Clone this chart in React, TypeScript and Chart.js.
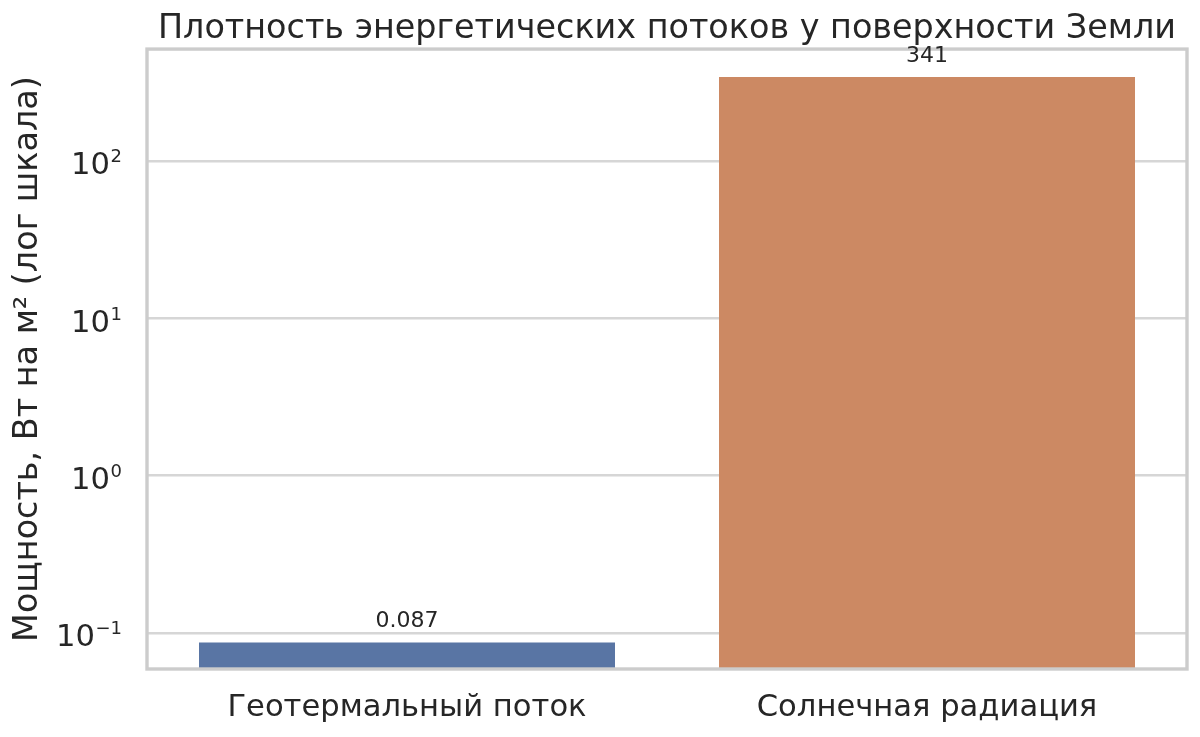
import { useEffect, useRef } from "react";
import { Chart, registerables } from "chart.js";

Chart.register(...registerables);

// ---- data ----
const categories = ["Геотермальный поток", "Солнечная радиация"];
const values = [0.087, 341];
const valueLabels = ["0.087", "341"];
const barColors = ["#5975a4", "#cc8963"];
const tickValues = [0.1, 1, 10, 100];
const tickBase = "10";
const tickExponents = ["\u22121", "0", "1", "2"];
const yMin = 0.059;
const yMax = 514;
const titleText = "Плотность энергетических потоков у поверхности Земли";
const yTitleText = "Мощность, Вт на м² (лог шкала)";

const FONT = '"DejaVu Sans", sans-serif';
const TEXT = "#262626";

const frameAndLabelsPlugin = {
  id: "frameAndLabels",
  afterDatasetsDraw(chart: any) {
    const { ctx, chartArea } = chart;
    ctx.save();
    // frame (spines)
    ctx.strokeStyle = "#cccccc";
    ctx.lineWidth = 3.4;
    ctx.strokeRect(
      chartArea.left,
      chartArea.top,
      chartArea.right - chartArea.left,
      chartArea.bottom - chartArea.top
    );
    // value annotations
    const meta = chart.getDatasetMeta(0);
    ctx.fillStyle = TEXT;
    ctx.font = `22px ${FONT}`;
    ctx.textAlign = "center";
    ctx.textBaseline = "alphabetic";
    meta.data.forEach((bar: any, i: number) => {
      ctx.fillText(valueLabels[i], bar.x, bar.y - 15);
    });
    // y tick labels with superscript exponents
    const s = chart.scales.y;
    const right = chartArea.left - 25;
    ctx.textAlign = "right";
    tickValues.forEach((v, i) => {
      const y = s.getPixelForValue(v);
      ctx.font = `18px ${FONT}`;
      ctx.fillText(tickExponents[i], right, y + 1.5);
      const w = ctx.measureText(tickExponents[i]).width;
      ctx.font = `30.6px ${FONT}`;
      ctx.fillText(tickBase, right - w - 0.5, y + 13.5);
    });
    ctx.restore();
  },
};

export default function App() {
  const canvasRef = useRef<HTMLCanvasElement | null>(null);

  useEffect(() => {
    document.body.style.margin = "0";
    const canvas = canvasRef.current;
    if (!canvas) return;
    const chart = new Chart(canvas, {
      type: "bar",
      data: {
        labels: categories,
        datasets: [
          {
            data: values,
            backgroundColor: barColors,
            borderWidth: 0,
            categoryPercentage: 0.8,
            barPercentage: 1,
          },
        ],
      },
      plugins: [frameAndLabelsPlugin],
      options: {
        animation: false,
        responsive: true,
        maintainAspectRatio: false,
        devicePixelRatio: 1,
        layout: { padding: { left: 0, right: 13, top: 0, bottom: 0 } },
        plugins: {
          legend: { display: false },
          tooltip: { enabled: false },
          title: {
            display: true,
            text: titleText,
            color: TEXT,
            fullSize: false,
            font: { family: FONT, size: 33.4, weight: "normal" },
            padding: { top: 9, bottom: 0 },
          },
        },
        scales: {
          x: {
            type: "category",
            offset: true,
            grid: { display: false, drawTicks: false },
            border: { display: false },
            ticks: {
              color: TEXT,
              font: { family: FONT, size: 30.6 },
              padding: 21,
              maxRotation: 0,
            },
            afterFit: (scale: any) => {
              scale.height = 68;
            },
          },
          y: {
            type: "logarithmic",
            min: yMin,
            max: yMax,
            grid: { color: "#d6d6d6", lineWidth: 2.6, drawTicks: false },
            border: { display: false },
            ticks: { display: false },
            afterBuildTicks: (scale: any) => {
              scale.ticks = tickValues.map((v) => ({ value: v }));
            },
            afterFit: (scale: any) => {
              scale.width = 147;
            },
            title: {
              display: true,
              text: yTitleText,
              color: TEXT,
              font: { family: FONT, size: 33.4, weight: "normal" },
              padding: { top: 8, bottom: 0 },
            },
          },
        },
      } as any,
    });
    return () => chart.destroy();
  }, []);

  return (
    <div style={{ position: "relative", width: 1200, height: 737, background: "#ffffff" }}>
      <canvas ref={canvasRef} />
    </div>
  );
}
